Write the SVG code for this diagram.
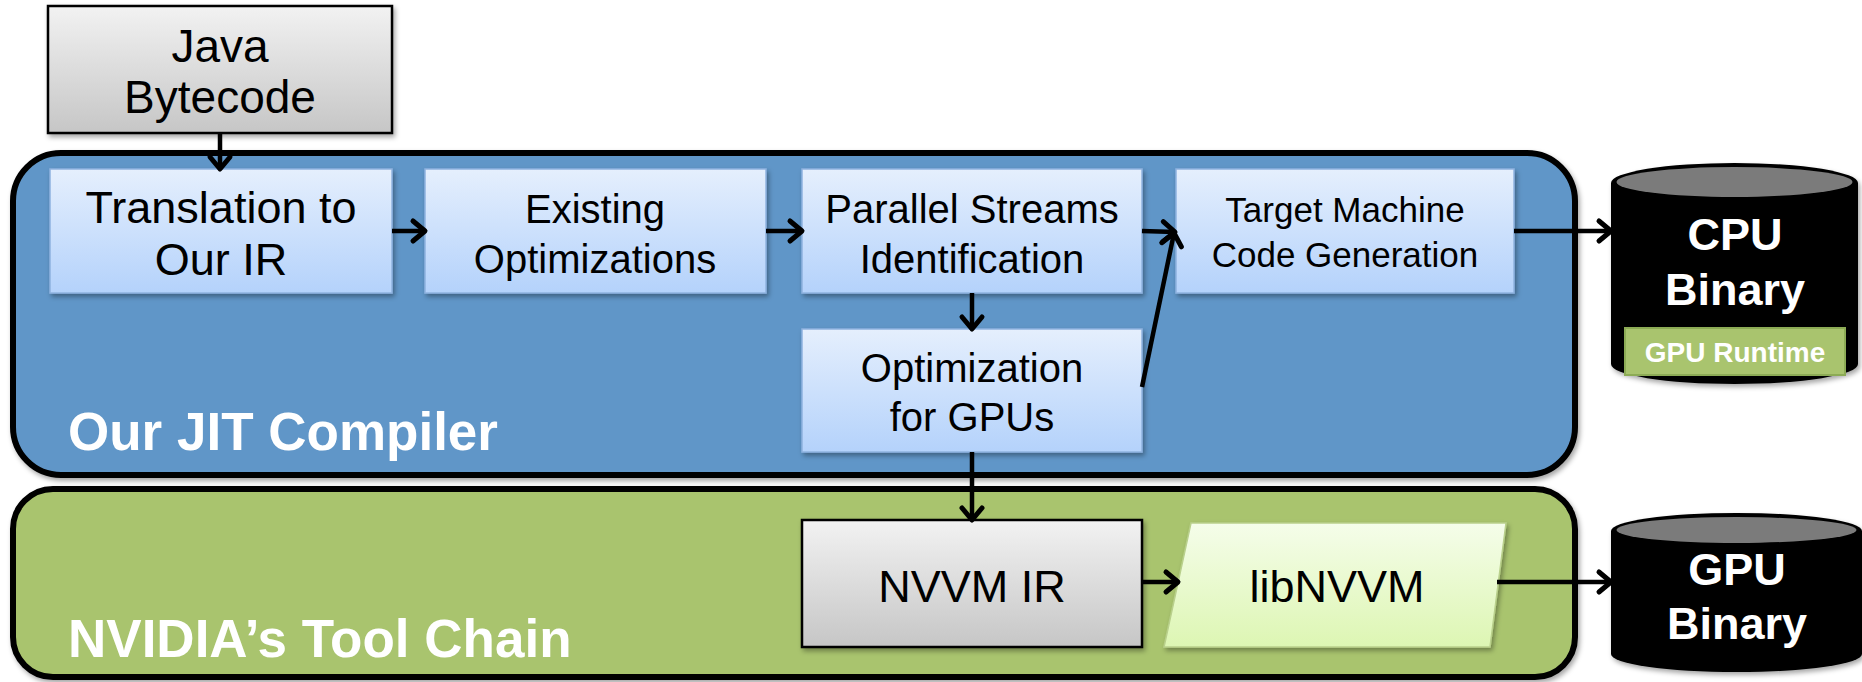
<svg xmlns="http://www.w3.org/2000/svg" width="1862" height="682" viewBox="0 0 1862 682">
<defs>
<style>
.t{font-family:"Liberation Sans",Arial,sans-serif;fill:#000;text-anchor:middle}
.w{font-family:"Liberation Sans",Arial,sans-serif;font-weight:bold;fill:#fff}
.wc{font-family:"Liberation Sans",Arial,sans-serif;font-weight:bold;fill:#fff;text-anchor:middle}
.blue{fill:url(#gb);stroke:#8fb3df;stroke-width:1.5;filter:url(#sh)}
.grey{fill:url(#gg);stroke:#000;stroke-width:2.5;filter:url(#sh)}
.cn{fill:none;stroke:#000;stroke-width:4.5;marker-end:url(#ah)}
</style>
<linearGradient id="gb" x1="0" y1="0" x2="0" y2="1"><stop offset="0" stop-color="#e5effd"/><stop offset="1" stop-color="#b4d2fb"/></linearGradient>
<linearGradient id="gg" x1="0" y1="0" x2="0" y2="1"><stop offset="0" stop-color="#f2f2f2"/><stop offset="1" stop-color="#c6c6c6"/></linearGradient>
<linearGradient id="gl" x1="0" y1="0" x2="0" y2="1"><stop offset="0" stop-color="#f5fdea"/><stop offset="1" stop-color="#ddf6b3"/></linearGradient>
<filter id="sh" x="-10%" y="-10%" width="130%" height="130%"><feDropShadow dx="2" dy="3" stdDeviation="2.5" flood-color="#000" flood-opacity="0.35"/></filter>
<marker id="ah" markerUnits="userSpaceOnUse" markerWidth="20" markerHeight="24" refX="15" refY="12" orient="auto" overflow="visible">
<path d="M3,2 L15,12 L3,22" fill="none" stroke="#000" stroke-width="5" stroke-linecap="round" stroke-linejoin="round"/>
</marker>
</defs>
<rect width="1862" height="682" fill="#fff"/>

<g id="jit-compiler">
<rect x="13" y="153" width="1562" height="322" rx="48" fill="#6196c8" stroke="#000" stroke-width="6" filter="url(#sh)"/>
<text class="w" x="68" y="450" font-size="53">Our JIT Compiler</text>
</g>
<g id="nvidia-toolchain">
<rect x="13" y="489" width="1562" height="188" rx="40" fill="#a9c46e" stroke="#000" stroke-width="6" filter="url(#sh)"/>
<text class="w" x="68" y="657" font-size="53">NVIDIA’s Tool Chain</text>
</g>

<g id="java-bytecode">
<rect class="grey" x="48" y="6" width="344" height="127"/>
<text class="t" x="220" y="62" font-size="46">Java</text>
<text class="t" x="220" y="113" font-size="46">Bytecode</text>
</g>
<g id="translation">
<rect class="blue" x="50" y="169" width="342" height="124"/>
<text class="t" x="221" y="223" font-size="45">Translation to</text>
<text class="t" x="221" y="275" font-size="45">Our IR</text>
</g>
<g id="existing-opt">
<rect class="blue" x="425" y="169" width="341" height="124"/>
<text class="t" x="595" y="223" font-size="40">Existing</text>
<text class="t" x="595" y="273" font-size="40">Optimizations</text>
</g>
<g id="parallel-streams">
<rect class="blue" x="802" y="169" width="340" height="124"/>
<text class="t" x="972" y="223" font-size="40">Parallel Streams</text>
<text class="t" x="972" y="273" font-size="40">Identification</text>
</g>
<g id="target-codegen">
<rect class="blue" x="1176" y="169" width="338" height="124"/>
<text class="t" x="1345" y="222" font-size="35">Target Machine</text>
<text class="t" x="1345" y="267" font-size="35">Code Generation</text>
</g>
<g id="gpu-opt">
<rect class="blue" x="802" y="329" width="340" height="123"/>
<text class="t" x="972" y="382" font-size="40">Optimization</text>
<text class="t" x="972" y="431" font-size="40">for GPUs</text>
</g>
<g id="nvvm-ir">
<rect class="grey" x="802" y="520" width="340" height="127"/>
<text class="t" x="972" y="602" font-size="45">NVVM IR</text>
</g>
<g id="libnvvm">
<polygon points="1191,523 1506,523 1490,647 1164,647" fill="url(#gl)" stroke="#b9d08c" stroke-width="1.5" filter="url(#sh)"/>
<text class="t" x="1337" y="602" font-size="45">libNVVM</text>
</g>
<g id="cpu-binary">
<path d="M1611,183 A123.5,20 0 0,1 1858,183 L1858,364 A123.5,20 0 0,1 1611,364 Z" fill="#000" filter="url(#sh)"/>
<ellipse cx="1734.5" cy="182" rx="118" ry="15" fill="#7b7b7b"/>
<text class="wc" x="1735" y="250" font-size="45">CPU</text>
<text class="wc" x="1735" y="305" font-size="45">Binary</text>
<rect x="1625" y="328" width="220" height="47" fill="#a9c46e" stroke="#8cab55" stroke-width="2"/>
<text class="wc" x="1735" y="362" font-size="28">GPU Runtime</text>
</g>
<g id="gpu-binary">
<path d="M1611,531 A125.5,18 0 0,1 1862,531 L1862,654 A125.5,18 0 0,1 1611,654 Z" fill="#000" filter="url(#sh)"/>
<ellipse cx="1736.5" cy="530" rx="120" ry="13" fill="#7b7b7b"/>
<text class="wc" x="1737" y="585" font-size="45">GPU</text>
<text class="wc" x="1737" y="639" font-size="45">Binary</text>
</g>

<g id="connectors">
<line class="cn" x1="220" y1="133" x2="220" y2="169"/>
<line class="cn" x1="392" y1="231" x2="425" y2="231"/>
<line class="cn" x1="766" y1="231" x2="802" y2="231"/>
<line class="cn" x1="1142" y1="231" x2="1175" y2="232"/>
<line class="cn" x1="1142" y1="387" x2="1174" y2="233"/>
<line class="cn" x1="972" y1="293" x2="972" y2="329"/>
<line class="cn" x1="972" y1="452" x2="972" y2="520"/>
<line class="cn" x1="1142" y1="582" x2="1178" y2="582"/>
<line class="cn" x1="1497" y1="582" x2="1611" y2="582"/>
<line class="cn" x1="1514" y1="231" x2="1611" y2="231"/>
</g>
</svg>
